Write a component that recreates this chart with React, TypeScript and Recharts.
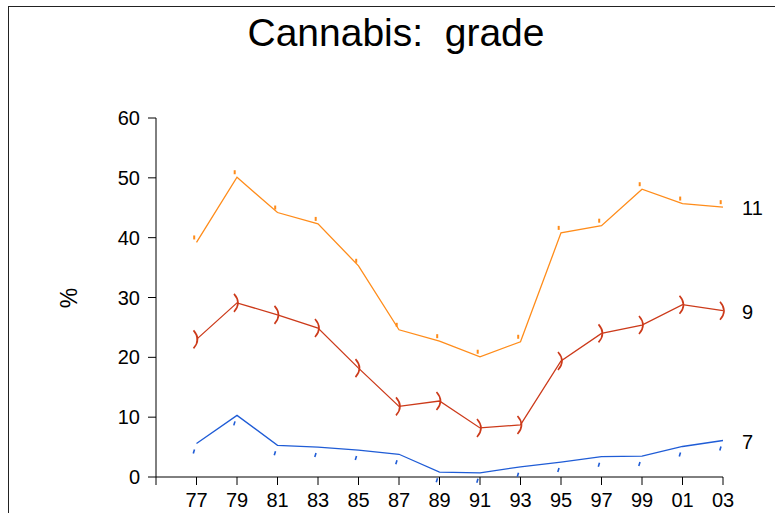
import React from "react";
import { LineChart, Line, XAxis, YAxis } from "recharts";

const years = [1977, 1979, 1981, 1983, 1985, 1987, 1989, 1991, 1993, 1995, 1997, 1999, 2001, 2003];
const axisTicks = [1975, 1977, 1979, 1981, 1983, 1985, 1987, 1989, 1991, 1993, 1995, 1997, 1999, 2001, 2003];
const tickLabels = ["", "77", "79", "81", "83", "85", "87", "89", "91", "93", "95", "97", "99", "01", "03"];
const yTicks = [0, 10, 20, 30, 40, 50, 60];

const grade11 = [39.2, 50.1, 44.2, 42.3, 35.3, 24.6, 22.7, 20.1, 22.6, 40.8, 42.0, 48.1, 45.7, 45.1];
const grade9 = [23.0, 29.1, 27.1, 24.9, 18.2, 11.8, 12.7, 8.2, 8.7, 19.4, 24.0, 25.4, 28.8, 27.8];
const grade7 = [5.6, 10.3, 5.3, 5.0, 4.5, 3.8, 0.8, 0.7, 1.7, 2.5, 3.4, 3.5, 5.1, 6.1];
const seriesNames = ["11", "9", "7"];

const title = "Cannabis:  grade";
const yLabel = "%";

const data = years.map((y, i) => ({ year: y, g11: grade11[i], g9: grade9[i], g7: grade7[i] }));

const FONT = "'Liberation Sans', Arial, Helvetica, sans-serif";
const ORANGE = "#FF8C1A";
const RED = "#CC3A1A";
const BLUE = "#1F5CD6";

const OrangeDot = (p: any) => {
  if (p.cx == null || p.cy == null) return <g key={`o-${p.index}`} />;
  return <rect key={`o-${p.index}`} x={p.cx - 3.3} y={p.cy - 7} width={2} height={4} fill={ORANGE} />;
};
const RedDot = (p: any) => {
  if (p.cx == null || p.cy == null) return <g key={`r-${p.index}`} />;
  const { cx, cy } = p;
  return (
    <path
      key={`r-${p.index}`}
      d={`M${cx - 3},${cy - 9} Q${cx + 5},${cy} ${cx - 3},${cy + 9}`}
      stroke={RED}
      strokeWidth={1.6}
      fill="none"
    />
  );
};
const BlueDot = (p: any) => {
  if (p.cx == null || p.cy == null) return <g key={`b-${p.index}`} />;
  const { cx, cy } = p;
  return <line key={`b-${p.index}`} x1={cx - 3.2} y1={cy + 10} x2={cx - 2} y2={cy + 6} stroke={BLUE} strokeWidth={1.6} />;
};

const makeEndLabel = (name: string) => (p: any) => {
  if (p.index !== years.length - 1) return null;
  return (
    <text key={`l-${name}`} x={p.x + 19} y={p.y + 1} dy="0.36em" fontSize={20} fontFamily={FONT} fill="#000">
      {name}
    </text>
  );
};

export default function App() {
  return (
    <div style={{ position: "absolute", left: 0, top: 0, width: 775, height: 513, overflow: "hidden", background: "#fff" }}>
      <div
        style={{
          position: "absolute",
          left: 8,
          top: 6,
          width: 900,
          height: 700,
          border: "1.5px solid #222",
          boxSizing: "border-box",
        }}
      />
      <div
        style={{
          position: "absolute",
          left: 0,
          width: 792,
          top: 10,
          textAlign: "center",
          fontFamily: FONT,
          fontSize: 39,
          lineHeight: "46px",
          color: "#000",
          whiteSpace: "pre",
        }}
      >
        {title}
      </div>
      <div style={{ position: "absolute", left: 0, top: 0 }}>
        <LineChart width={775} height={513} data={data} margin={{ top: 118, right: 52, bottom: 0, left: 0 }}>
          <XAxis
            dataKey="year"
            type="number"
            domain={[1975, 2003]}
            ticks={axisTicks}
            tickFormatter={(v: number) => tickLabels[axisTicks.indexOf(v)]}
            height={36}
            tickSize={8}
            tickMargin={8}
            stroke="#000"
            tick={{ fill: "#000", fontSize: 20, fontFamily: FONT }}
            interval={0}
          />
          <YAxis
            type="number"
            domain={[0, 60]}
            ticks={yTicks}
            width={156}
            tickSize={8}
            tickMargin={8}
            stroke="#000"
            tick={{ fill: "#000", fontSize: 20, fontFamily: FONT }}
            interval={0}
            label={{
              content: () => (
                <text x={77} y={298} transform="rotate(-90 77 298)" textAnchor="middle" fontSize={23} fontFamily={FONT} fill="#000">
                  {yLabel}
                </text>
              ),
            }}
          />
          <Line type="linear" dataKey="g11" stroke={ORANGE} strokeWidth={1.3} dot={OrangeDot} activeDot={false} isAnimationActive={false} label={makeEndLabel(seriesNames[0])} />
          <Line type="linear" dataKey="g9" stroke={RED} strokeWidth={1.3} dot={RedDot} activeDot={false} isAnimationActive={false} label={makeEndLabel(seriesNames[1])} />
          <Line type="linear" dataKey="g7" stroke={BLUE} strokeWidth={1.3} dot={BlueDot} activeDot={false} isAnimationActive={false} label={makeEndLabel(seriesNames[2])} />
        </LineChart>
      </div>
    </div>
  );
}
